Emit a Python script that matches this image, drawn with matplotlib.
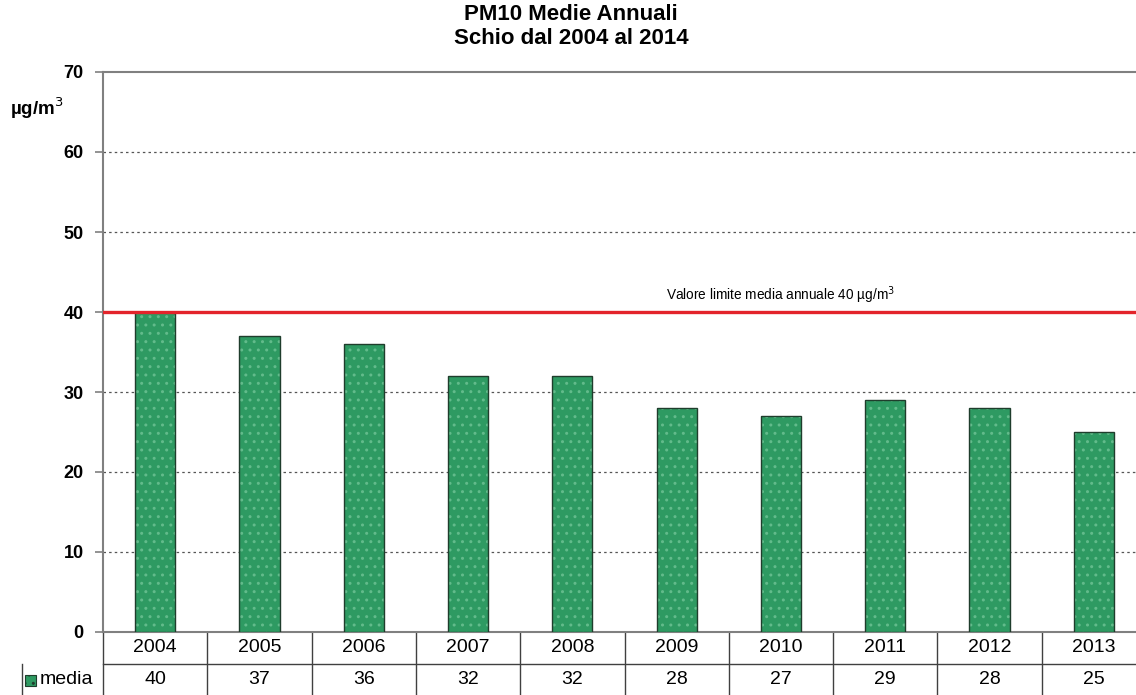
import numpy as np
import matplotlib.pyplot as plt
from matplotlib.patches import Rectangle

plt.rcParams['font.family'] = ['Liberation Sans', 'DejaVu Sans']

# annual PM10 means, Schio
years = ['2004', '2005', '2006', '2007', '2008', '2009', '2010', '2011', '2012', '2013']
media = [40, 37, 36, 32, 32, 28, 27, 29, 28, 25]
limit_value = 40
y_ticks = [0, 10, 20, 30, 40, 50, 60, 70]

BAR_GREEN = '#2e9a62'
DOT_GREEN = '#62bb8b'
AXIS_GRAY = '#808080'

fig = plt.figure(figsize=(11.36, 6.95), dpi=100)
W, H = 1136, 695
# plot area runs past the right edge of the canvas
left, right, top, bottom = 103, 1146, 72, 632
ax = fig.add_axes([left / W, 1 - bottom / H, (right - left) / W, (bottom - top) / H])

x = np.arange(len(years))
ax.bar(x, media, width=0.385, color=BAR_GREEN, edgecolor=DOT_GREEN, linewidth=0,
       hatch='..', zorder=3)
ax.bar(x, media, width=0.385, color='none', edgecolor='#1f3d2c', linewidth=1.0, zorder=4)

ax.set_xlim(-0.5, len(years) - 0.5)
ax.set_ylim(0, 70)
ax.set_yticks(y_ticks)
ax.set_yticklabels([str(t) for t in y_ticks], fontsize=13, fontweight='bold')
ax.set_xticks([])
ax.tick_params(axis='y', length=6, width=1.2, color=AXIS_GRAY, pad=8)

for t in y_ticks[1:-1]:
    ax.axhline(t, color='#555555', linestyle=(0, (2, 2.5)), linewidth=0.9, zorder=1)

for side in ['left', 'top', 'bottom']:
    ax.spines[side].set_color(AXIS_GRAY)
    ax.spines[side].set_linewidth(1.5)
ax.spines['right'].set_visible(False)

# limit line
ax.axhline(limit_value, color='#e3242b', linewidth=2.4, zorder=5)
ax.text(6.0, limit_value + 1.5, 'Valore limite media annuale 40 µg/m$^3$',
        ha='center', va='baseline', fontsize=9.8)

# data table under the axis
trans = ax.get_xaxis_transform()
row_h = 32 / (bottom - top)
label_left = (22 - left) / ((right - left) / len(years)) - 0.5
table_kw = dict(color='#404040', linewidth=1.0, transform=trans, clip_on=False)
ax.plot([-0.5, len(years) - 0.5], [-row_h, -row_h], **table_kw)
ax.plot([label_left, len(years) - 0.5], [-2 * row_h, -2 * row_h], **table_kw)
ax.plot([label_left, label_left], [-row_h, -2 * row_h], **table_kw)
for i in range(len(years) + 1):
    ax.plot([i - 0.5, i - 0.5], [0, -2 * row_h], **table_kw)
for i, (yr, v) in enumerate(zip(years, media)):
    ax.text(i, -0.5 * row_h, yr, transform=trans, ha='center', va='center', fontsize=14)
    ax.text(i, -1.5 * row_h, str(v), transform=trans, ha='center', va='center', fontsize=14)

# legend key in the row label
fig.add_artist(Rectangle((25 / W, 1 - 686 / H), 11 / W, 11 / H, facecolor=BAR_GREEN,
                         edgecolor='#1f3d2c', linewidth=0.8, hatch='..'))
fig.text(40 / W, 1 - 680 / H, 'media', ha='left', va='center', fontsize=14)

# unit label
fig.text(37 / W, 1 - 108 / H, 'µg/m$^3$', ha='center', va='center', fontsize=13.5, fontweight='bold')

fig.text(571 / W, 1 - 15 / H, 'PM10 Medie Annuali', ha='center', va='center',
         fontsize=16, fontweight='bold')
fig.text(571 / W, 1 - 38 / H, 'Schio dal 2004 al 2014', ha='center', va='center',
         fontsize=16, fontweight='bold')

fig.savefig('out.png', dpi=100)
